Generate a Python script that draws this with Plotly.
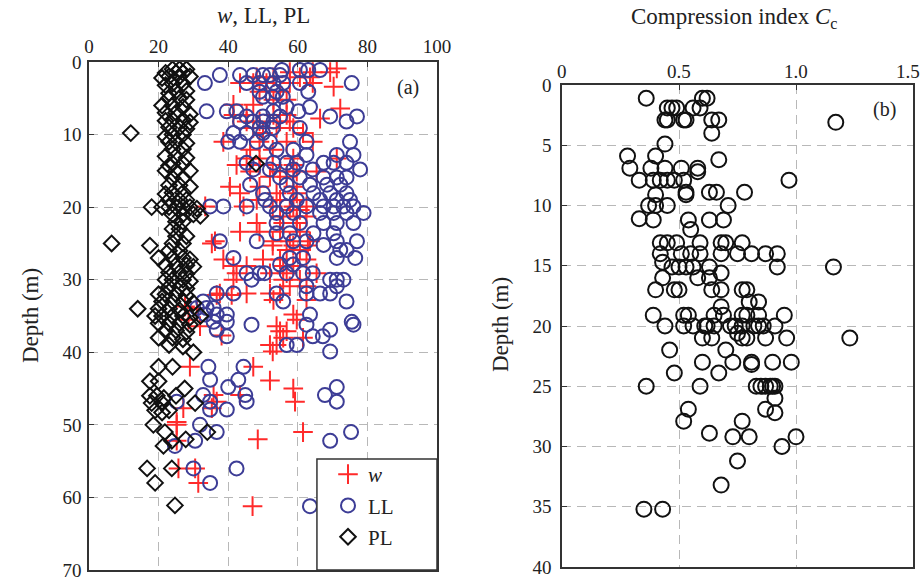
import plotly.graph_objects as go

# ---------------- data ----------------
pl_x = [26,28,24, 22,25,27, 23,26,29,21, 24,27,22, 25,28,23, 23,26,28, 21,24,27, 22,25,29,
        24,27,22,29, 23,26,28, 12, 24,27,22, 23,25,28, 24,27, 22,25,28, 24,27,23,48,
        22,25,29, 24,27, 23,26,29, 24,27,22, 23,26,28, 18,21,23,25,27,29,31, 24,27,30,32,
        25,27, 24,26, 25,28, 6.5,17.5,24,27, 23,26, 20,24,27,29, 22,25,28,30, 23,26,28,
        22,24,27,29, 23,26,28, 20,22,25,28, 21,24,27,30, 14,20,23,26, 19,21,24,27,29,32,
        20,23,26,29, 22,25,28, 20,24,27, 23,27, 30, 20,24, 17.5,20,27.5, 17.5,19.5,21.5,25,
        18,21,30.5, 19,21,23, 18.5,21.8,34,23.8,27.8,21.4, 16.7,23.8,19,24.7]
pl_d = [1,1,1, 1.5,1.5,1.5, 2,2,2,2.2, 3,3,3.2, 4,4,4.3, 5,5,5.2, 6,6,6.2, 7,7,7.2,
        8,8,8.1,8.3, 9,9,9.2, 9.8, 10,10,10.3, 11,11,11.2, 12,12, 13,13,13.2, 14,14,14.3,14,
        15,15,15, 16,16, 17,17,17.2, 18,18,18.2, 19,19,19, 20,20,20,20,20,20,20.2, 21,21,21,21.2,
        22,22, 23,23, 24,24, 25,25.3,25,25, 26,26, 27,27,27,27.2, 28,28,28,28.2, 29,29,29.2,
        30,30,30,30.2, 31,31,31.2, 32,32,32,32.2, 33,33,33,33.2, 34,34,34,34.2, 35,35,35,35,35.2,35,
        36,36,36,36.2, 37,37,37.2, 38,38,38.2, 39,39.2, 40, 42,42, 44,44,45, 46,46,46.3,46,
        47,47,47, 48,48.3,48, 50,51,51,52.2,52,52.9, 56,56,58,61.1]

ll_x = [55.4,60.6,63,66.4, 37.6,43.4,47.2,50,52,54.9, 33.3,45.3,49,53,55.8,60.6,75.5,
        49,53.9,63, 50,52.8,55.7, 56.8,63.5, 33.8,39.6,42.4,53,60.2, 45.3,50,54.9,69.3,77,
        43.4,47.2,50.1,53,74, 49,52.8,60.6, 41.5,45.3,50, 40,43.4,48.2,52,62.5,75,
        53.9,58.7, 62.5,71.2,76, 45.3,53,56.8,59.7,67.4,70.3,74, 47.2,52,58.7,64.3,77.9,
        54.9,60.6,67.4,71.2,74, 46.3,56.8,63.5,68.4,72.2, 50,57.7,64.5,69.3,74,
        50.6,59.7,66.4,71.2,75, 34.8,38.6,45.3,52,56.8,62.5,67.4,70.3,73.1,76,
        53.9,58.7,66.4,70.3,74,78.9, 53.9,60.6,67.4,71.2,76, 53.9,57.7,64.5,70.3,
        37.6,48.2,58.7,62.5,71.2,77, 67.4,72.2,74, 41.5,57.7,61.5,71.2,76.5, 54.9,58.7,
        45.3,49,50.5,56.8,61.5,64.3, 46.7,69.3,71.2,73.1, 62.5,71.2,
        36.7,41.5,53.9,62.5,66.4,69.3, 32.8,55.8,74, 31,33.8,35.8, 33.4,36.7,39.6,63.5,
        35.8,39.6,75.5, 46.7,62.5,76, 36.7,69.3, 39.6,64.3,67.2, 56.8,59.7, 69.3,
        34.3,44.4, 34.8,42.9, 40,71.2, 32.8,44.9,67.8, 25.2,34.8,45.3,71.2, 34.8,39.6,
        31.9,36.7,75.3,30.5,69.3,24.7, 30,42.4, 34.8, 63.5]
ll_d = [1.1,1.1,1.1,1.1, 1.8,1.8,1.8,1.8,1.8,1.8, 2.9,2.9,2.9,2.9,2.9,2.9,2.9,
        4.1,4.1,4.1, 4.8,4.8,4.8, 6.2,6.2, 6.8,6.8,6.8,6.8,6.8, 7.5,7.5,7.5,7.5,7.5,
        8.2,8.2,8.2,8.2,8.2, 9.1,9.1,9.1, 9.8,9.8,9.8, 11,11,11,11,11,11,
        12.1,12.1, 12.8,12.8,12.8, 13.9,13.9,13.9,13.9,13.9,13.9,13.9, 14.8,14.8,14.8,14.8,14.8,
        15.9,15.9,15.9,15.9,15.9, 16.9,16.9,16.9,16.9,16.9, 18.1,18.1,18.1,18.1,18.1,
        19,19,19,19,19, 19.9,19.9,19.9,19.9,19.9,19.9,19.9,19.9,19.9,19.9,
        20.8,20.8,20.8,20.8,20.8,20.8, 22.2,22.2,22.2,22.2,22.2, 23.6,23.6,23.6,23.6,
        24.7,24.7,24.7,24.7,24.7,24.7, 25.2,25.9,25.9, 27,27,27,27,27, 27.9,27.9,
        29.1,29.1,29.1,29.1,29.1,29.1, 30,30,30,30, 30.9,30.9,
        31.9,31.9,31.9,31.9,31.9,31.9, 33,33,33, 33.9,33.9,33.9, 34.8,34.8,34.8,34.8,
        35.8,35.8,35.8, 36.2,36.2,36.2, 36.9,36.9, 37.8,37.8,37.8, 39,39, 39.9,
        42,42, 43.8,43.8, 44.8,44.8, 45.9,45.9,45.9, 46.8,46.8,46.8,46.8, 47.9,47.9,
        50,51,51,52.2,52.2,52.9, 56,56, 58, 61.2]

w_x = [71.2, 57.7,64.3,69.3, 48.2,53,60.6,63.5, 43.4,47.2,51,57.7,64.3, 70.3, 49,54.9,
       53,56.8, 41.5,47.2, 72.2, 41.5,45.3,53,56.8, 66.4, 45.3,49,54.9,57.7, 47.2,53.9,58.7,
       50,61.5, 38.6,49,56.8,64.3, 46.3,52.8, 45.3,49,58.7,71.2, 42.4,49,52.8,58.7,
       46.3,54.9,59.7,65.4, 52,56.8, 40.5,49,58.7, 43.4,53.9,59.7, 48.2,54.9,58.7,
       33.4,44.4,52.8,58.7,62.5, 57.7,60.6, 54.9,59.7,62.5, 48.2,55.8,59.7,
       43.4,49,54.9,60.6, 36.2,52.8,57.7,63.5, 35.3,52.8,58.7,62.9, 56.8,60.6,
       38.6,50,54.9,62.5, 41.5,45.3,55.8,58.7, 42.4,52,56.8,65.4, 41.5,55.8,60.6,
       57.7,62.5, 37.6,45.3,52,54.9, 36.7,41, 53,62.5, 27.6,31,28.6, 58.7,59.7,
       31.9,53.9, 54.9,56.8, 38.1,55.8,61.5, 52,53.9, 52.8, 29,47.2, 52, 58.7,
       35.8,43.4, 36.7,59.2, 27.1,35.3, 25.2, 25.2,61.5,48.5,25.2, 25.7,30.5, 31.4, 47]
w_d = [0.9, 1.4,1.4,1.4, 2.1,2.1,2.1,2.1, 2.9,2.9,2.9,2.9,2.9, 3.4, 4.1,4.1,
       5.2,5.2, 5.9,5.9, 6.4, 7.3,7.3,7.3,7.3, 7.8, 8.2,8.2,8.2,8.2, 9.1,9.1,9.1,
       9.8,9.8, 11,11,11,11, 12.1,12.1, 13.3,13.3,13.3,13.3, 14.2,14.2,14.2,14.2,
       15.1,15.1,15.1,15.1, 15.8,15.8, 17.2,17.2,17.2, 18.1,18.1,18.1, 19,19,19,
       19.9,19.9,19.9,19.9,19.9, 20.4,20.4, 21.3,21.3,21.3, 22.2,22.2,22.2,
       23.4,23.4,23.4,23.4, 24.7,24.7,24.7,24.7, 25,25.3,25.3,25.3, 25.9,25.9,
       27.2,27.2,27.2,27.2, 28.1,28.1,28.1,28.1, 29.1,29.1,29.1,29.1, 30,30,30,
       30.9,30.9, 31.9,31.9,31.9,31.9, 32.1,32.1, 32.8,32.8, 33.7,33.9,35.5, 34.8,35.5,
       36.4,36.4, 37.1,37.1, 37.7,38,38, 39,39, 39.9, 42,42, 43.9, 45,
       45.9,45.9, 46.8,46.8, 47.7,47.7, 49.6, 50,51,52,52.2, 56,56, 58, 61.2]

cc_v = [0.36,0.60,0.62, 0.45,0.47,0.49,0.56,0.59, 0.44,0.45,0.52,0.53,0.64,0.67, 1.17, 0.64,
        0.44, 0.28,0.40, 0.67, 0.29,0.38,0.44,0.51,0.58, 0.58,
        0.33,0.39,0.42,0.45,0.48,0.52,0.97, 0.53,0.63,0.66,0.78, 0.40,0.53,
        0.37,0.40,0.45,0.71, 0.33,0.39,0.54,0.63,0.69, 0.55,
        0.42,0.45,0.49,0.59,0.68,0.70,0.77, 0.42,0.51,0.55,0.59,0.68,0.75,0.81,0.87,0.92,
        0.43, 0.47,0.50,0.53,0.56,0.63,0.92,1.16, 0.68, 0.43,0.58,0.63,
        0.40,0.48,0.50,0.64,0.68,0.77,0.79, 0.80,0.84, 0.68,
        0.39,0.52,0.54,0.65,0.69,0.77,0.79,0.84,0.95,
        0.44,0.52,0.56,0.61,0.62,0.65,0.72,0.74,0.77,0.82,0.84,0.86,0.91, 0.75,
        0.60,0.64,0.77,0.79,0.87,0.96,1.23, 0.46,0.70,
        0.60,0.73,0.81,0.81,0.90,0.98, 0.48,0.67,
        0.36,0.59,0.83,0.85,0.87,0.89,0.90,0.91, 0.91, 0.54,0.87, 0.91,
        0.52,0.77, 0.63, 0.73,0.80,1.00, 0.94, 0.75, 0.68, 0.35,0.43]
cc_d = [1.1,1.1,1.1, 1.9,1.9,1.9,1.9,1.9, 2.9,2.9,2.9,2.9,2.9,2.9, 3.1, 4,
        4.9, 5.9,5.9, 6.2, 6.9,6.9,6.9,6.9,6.9, 7.2,
        7.9,7.9,7.9,7.9,7.9,7.9,7.9, 8.9,8.9,8.9,8.9, 9.1,9.1,
        10,10,10,10, 11.1,11.2,11.2,11.2,11.2, 12,
        13.1,13.1,13.1,13.1,13.1,13.1,13.1, 14,14,14,14,14,14,14,14,14,
        14.7, 15.1,15.1,15.1,15.1,15.1,15.1,15.1, 15.6, 16,16,16,
        17,17,17,17,17,17,17, 18,18, 18.4,
        19.1,19.1,19.1,19.1,19.1,19.1,19.1,19.1,19.1,
        20,20,20,20,20,20,20,20,20,20,20,20,20, 20.6,
        21,21,21,21,21,21,21, 22,22,
        23,23,23,23.2,23,23, 23.9,23.9,
        25,25,25,25,25,25,25,25, 26, 26.9,26.9, 27.2,
        27.9,27.9, 28.9, 29.2,29.2,29.2, 30, 31.2, 33.2, 35.2,35.2]

a_xticks = [0, 20, 40, 60, 80, 100]
a_yticks = [0, 10, 20, 30, 40, 50, 60, 70]
b_xticks = [0, 0.5, 1.0, 1.5]
b_xlabels = ["0", "0.5", "1.0", "1.5"]
b_yticks = [0, 5, 10, 15, 20, 25, 30, 35, 40]

FONT = "Liberation Serif"
INK = "#222222"
GRID = "#b8b8b8"
TICK_SIZE = 19
TITLE_SIZE = 23

W, H = 920, 585


def X(px):  # window pixel -> paper x
    return px / W


def Y(py):  # window pixel -> paper y
    return (H - py) / H


fig = go.Figure()
fig.add_trace(go.Scatter(x=w_x, y=w_d, mode="markers", name="<i>w</i>", legendgroup="a",
                         marker=dict(symbol="cross-thin", size=14,
                                     line=dict(color="#ff2a2a", width=2)),
                         xaxis="x", yaxis="y"))
fig.add_trace(go.Scatter(x=ll_x, y=ll_d, mode="markers", name="LL", legendgroup="b",
                         marker=dict(symbol="circle-open", size=14, color="#3d3d96",
                                     line=dict(width=2)),
                         xaxis="x", yaxis="y"))
fig.add_trace(go.Scatter(x=pl_x, y=pl_d, mode="markers", name="PL", legendgroup="c",
                         marker=dict(symbol="diamond-open", size=12, color="#111111",
                                     line=dict(width=2)),
                         xaxis="x", yaxis="y"))
fig.add_trace(go.Scatter(x=cc_v, y=cc_d, mode="markers", showlegend=False,
                         marker=dict(symbol="circle-open", size=15, color="#111111",
                                     line=dict(width=2)),
                         xaxis="x2", yaxis="y2"))

axis_common = dict(showline=True, mirror=True, linecolor="#333333", linewidth=1.5,
                   showgrid=True, gridcolor=GRID, griddash="9px,6px", gridwidth=1,
                   zeroline=False, ticks="inside", ticklen=5, tickcolor="#333333",
                   automargin=False,
                   tickfont=dict(family=FONT, size=TICK_SIZE, color=INK))

fig.update_layout(
    width=W, height=H,
    margin=dict(l=0, r=0, t=0, b=0, autoexpand=False),
    paper_bgcolor="white", plot_bgcolor="white",
    font=dict(family=FONT, color=INK),
    hovermode=False,
    xaxis=dict(domain=[X(89), X(437)], range=[0, 100], side="top",
               tickvals=a_xticks, anchor="y", **axis_common),
    yaxis=dict(domain=[Y(570), Y(62)], range=[70, 0], tickvals=a_yticks,
               anchor="x", ticklabelstandoff=2, **axis_common),
    xaxis2=dict(domain=[X(562), X(913)], range=[0, 1.5], side="top",
                tickvals=b_xticks, showticklabels=False, anchor="y2", **axis_common),
    yaxis2=dict(domain=[Y(567), Y(85)], range=[40, 0], tickvals=b_yticks,
                anchor="x2", ticklabelstandoff=5, **axis_common),
    showlegend=True,
    legend=dict(x=X(328), y=Y(454), xanchor="left", yanchor="top",
                bgcolor="rgba(0,0,0,0)", borderwidth=0,
                font=dict(family=FONT, size=21, color=INK),
                traceorder="grouped", tracegroupgap=1, itemwidth=30),
)

# legend frame (white box drawn over the data, in the lower-right corner of panel a)
fig.add_shape(type="rect", xref="x", yref="y", x0=65.5, x1=100, y0=54.7, y1=70,
              fillcolor="white", line=dict(color="#333333", width=1.5), layer="above")

# top tick labels of panel b (the last one is pulled inside the page edge)
for v, lab in zip(b_xticks, b_xlabels):
    fig.add_annotation(text=lab, x=v, xref="x2", y=Y(71), yref="paper",
                       showarrow=False, xanchor="center", yanchor="middle",
                       xshift=-5 if v == b_xticks[-1] else 0,
                       font=dict(family=FONT, size=TICK_SIZE, color=INK))

ann = [
    dict(text="<i>w</i>, LL, PL", x=X(263), y=Y(15), size=TITLE_SIZE),
    dict(text="Compression index <i>C</i><sub>c</sub>", x=X(734), y=Y(18), size=TITLE_SIZE),
    dict(text="(a)", x=X(408), y=Y(87), size=20),
    dict(text="(b)", x=X(884), y=Y(109), size=20),
]
for a in ann:
    fig.add_annotation(text=a["text"], x=a["x"], y=a["y"], xref="paper", yref="paper",
                       showarrow=False, xanchor="center", yanchor="middle",
                       font=dict(family=FONT, size=a["size"], color=INK))
for xpos, ypos in [(30, 316), (500, 325)]:
    fig.add_annotation(text="Depth (m)", x=X(xpos), y=Y(ypos), xref="paper",
                       yref="paper", showarrow=False, textangle=-90,
                       xanchor="center", yanchor="middle",
                       font=dict(family=FONT, size=TITLE_SIZE, color=INK))

# remove the default 8 px page margin so the 920x585 figure fills the window exactly
fig.write_html("out.html",
               config={"displayModeBar": False, "staticPlot": False},
               post_script="document.body.style.margin='0';"
                           "document.body.style.overflow='hidden';")
